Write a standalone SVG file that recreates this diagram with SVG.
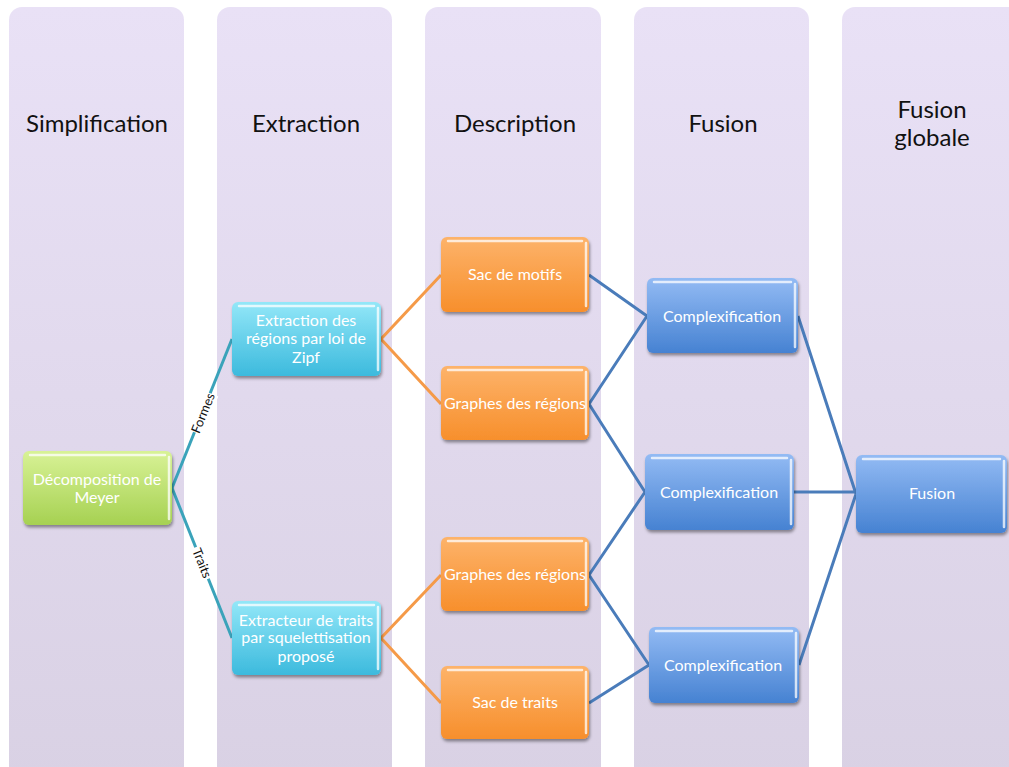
<svg xmlns="http://www.w3.org/2000/svg" width="1009" height="767" viewBox="0 0 1009 767">
<defs>
<linearGradient id="gCol" x1="0" y1="0" x2="0" y2="1"><stop offset="0" stop-color="#e9e1f6"/><stop offset="1" stop-color="#d9d1e4"/></linearGradient>
<linearGradient id="gGreen" x1="0" y1="0" x2="0" y2="1"><stop offset="0" stop-color="#d8f296"/><stop offset="1" stop-color="#a6d152"/></linearGradient>
<linearGradient id="gCyan" x1="0" y1="0" x2="0" y2="1"><stop offset="0" stop-color="#93e7f8"/><stop offset="1" stop-color="#3cbadd"/></linearGradient>
<linearGradient id="gOrange" x1="0" y1="0" x2="0" y2="1"><stop offset="0" stop-color="#fdb36a"/><stop offset="1" stop-color="#f78f2c"/></linearGradient>
<linearGradient id="gBlue" x1="0" y1="0" x2="0" y2="1"><stop offset="0" stop-color="#93bbf4"/><stop offset="1" stop-color="#4682d2"/></linearGradient>
<filter id="sh" x="-10%" y="-10%" width="125%" height="135%"><feDropShadow dx="1" dy="2.5" stdDeviation="1.5" flood-color="#000" flood-opacity="0.4"/></filter>
</defs>
<style>
.col{fill:url(#gCol);}
.hdr{font-family:Lato,"Open Sans",sans-serif;font-size:24px;fill:#111;text-anchor:middle;}
.box{stroke:none;filter:url(#sh);}
.green{fill:url(#gGreen);}
.cyan{fill:url(#gCyan);}
.orange{fill:url(#gOrange);}
.blue{fill:url(#gBlue);}
.hl{stroke:#fff;stroke-opacity:0.75;stroke-width:2.5;fill:none;stroke-linecap:round;}
.bt{font-family:Lato,"Open Sans",sans-serif;font-size:16px;fill:#fff;text-anchor:middle;}
.lt{stroke:#3aa3ba;stroke-width:3;fill:none;}
.lo{stroke:#f59a48;stroke-width:3;fill:none;}
.lb{stroke:#4a7cba;stroke-width:3;fill:none;}
.lbl{font-family:Lato,"Open Sans",sans-serif;font-size:13px;fill:#111;text-anchor:middle;}
</style>
<rect width="1009" height="767" fill="#fff"/>
<g id="columns">
<rect class="col" x="9" y="7" width="175" height="775" rx="13"/>
<rect class="col" x="217" y="7" width="175" height="775" rx="13"/>
<rect class="col" x="425" y="7" width="176" height="775" rx="13"/>
<rect class="col" x="634" y="7" width="175" height="775" rx="13"/>
<rect class="col" x="842" y="7" width="180" height="775" rx="13"/>
<text class="hdr" x="97" y="132">Simplification</text>
<text class="hdr" x="306" y="132">Extraction</text>
<text class="hdr" x="515" y="132">Description</text>
<text class="hdr" x="723" y="132">Fusion</text>
<text class="hdr" x="932" y="118">Fusion</text>
<text class="hdr" x="932" y="146">globale</text>
</g>
<g id="connectors">
<line class="lt" x1="172" y1="488" x2="232" y2="339"/>
<line class="lt" x1="172" y1="488" x2="232" y2="638"/>
<g transform="translate(203,413) rotate(-68)"><rect x="-21" y="-8" width="42" height="16" fill="#fff"/><text class="lbl" x="0" y="4.5">Formes</text></g>
<g transform="translate(202,563) rotate(68)"><rect x="-17" y="-8" width="34" height="16" fill="#fff"/><text class="lbl" x="0" y="4.5">Traits</text></g>
<path class="lo" d="M381,339 L441,275 M381,339 L441,404 M381,638 L441,575 M381,638 L441,703"/>
<path class="lb" d="M589,275 L647,316 M589,404 L647,316 M589,404 L645,492 M589,575 L645,492 M589,575 L649,665 M589,703 L649,665"/>
<path class="lb" d="M798,316 L856,494 M794,492 L856,492 M799,665 L856,494"/>
</g>
<g id="meyer">
<rect class="box green" x="23" y="451" width="149" height="74" rx="6"/>
<path class="hl" d="M30,455 H165 M169,457 V519"/>
<text class="bt" x="97" y="485">Décomposition de</text>
<text class="bt" x="97" y="503">Meyer</text>
</g>
<g id="extraction-zipf">
<rect class="box cyan" x="232" y="302" width="149" height="74" rx="6"/>
<path class="hl" d="M239,306 H374 M378,308 V370"/>
<text class="bt" x="306" y="326">Extraction des</text>
<text class="bt" x="306" y="344">régions par loi de</text>
<text class="bt" x="306" y="363">Zipf</text>
</g>
<g id="extracteur-traits">
<rect class="box cyan" x="232" y="601" width="149" height="74" rx="6"/>
<path class="hl" d="M239,605 H374 M378,607 V669"/>
<text class="bt" x="306" y="626">Extracteur de traits</text>
<text class="bt" x="306" y="643">par squelettisation</text>
<text class="bt" x="306" y="662">proposé</text>
</g>
<g id="sac-motifs">
<rect class="box orange" x="441" y="237" width="148" height="75" rx="6"/>
<path class="hl" d="M448,241 H582 M586,243 V306"/>
<text class="bt" x="515" y="280">Sac de motifs</text>
</g>
<g id="graphes-1">
<rect class="box orange" x="441" y="366" width="148" height="74" rx="6"/>
<path class="hl" d="M448,370 H582 M586,372 V434"/>
<text class="bt" x="515" y="409">Graphes des régions</text>
</g>
<g id="graphes-2">
<rect class="box orange" x="441" y="537" width="148" height="74" rx="6"/>
<path class="hl" d="M448,541 H582 M586,543 V605"/>
<text class="bt" x="515" y="580">Graphes des régions</text>
</g>
<g id="sac-traits">
<rect class="box orange" x="441" y="666" width="148" height="73" rx="6"/>
<path class="hl" d="M448,670 H582 M586,672 V733"/>
<text class="bt" x="515" y="708">Sac de traits</text>
</g>
<g id="complex-1">
<rect class="box blue" x="647" y="278" width="151" height="75" rx="6"/>
<path class="hl" d="M654,282 H791 M795,284 V347"/>
<text class="bt" x="722" y="322">Complexification</text>
</g>
<g id="complex-2">
<rect class="box blue" x="645" y="454" width="149" height="76" rx="6"/>
<path class="hl" d="M652,458 H787 M791,460 V524"/>
<text class="bt" x="719" y="498">Complexification</text>
</g>
<g id="complex-3">
<rect class="box blue" x="649" y="627" width="150" height="76" rx="6"/>
<path class="hl" d="M656,631 H792 M796,633 V697"/>
<text class="bt" x="723" y="671">Complexification</text>
</g>
<g id="fusion">
<rect class="box blue" x="856" y="455" width="151" height="78" rx="6"/>
<path class="hl" d="M863,459 H1000 M1004,461 V527"/>
<text class="bt" x="932" y="499">Fusion</text>
</g>
</svg>
